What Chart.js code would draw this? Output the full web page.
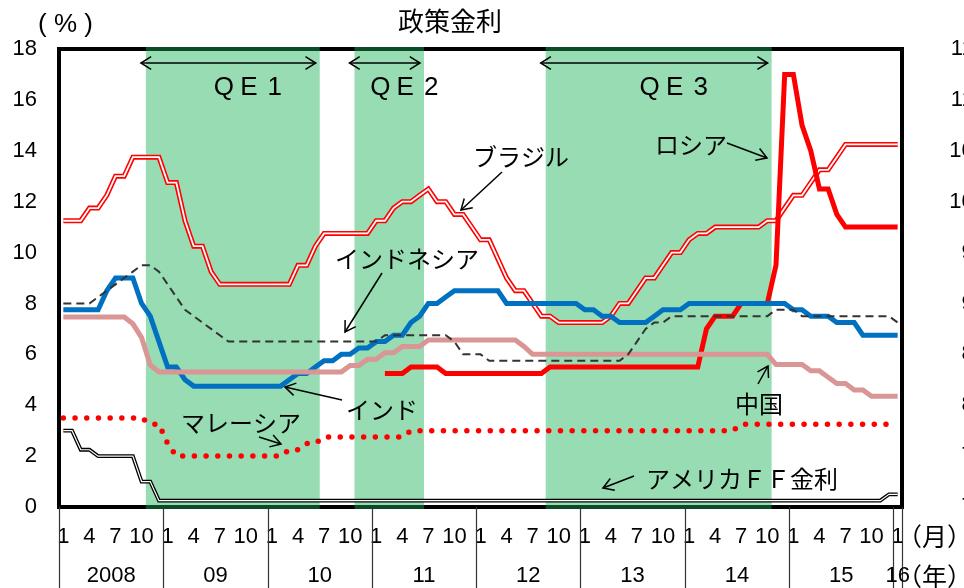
<!DOCTYPE html>
<html>
<head>
<meta charset="utf-8">
<title>政策金利</title>
<script src="https://cdn.jsdelivr.net/npm/chart.js@4.4.1/dist/chart.umd.min.js"></script>
<style>
  html, body { margin: 0; padding: 0; background: #fff; overflow: hidden; }
  #wrap { width: 964px; height: 588px; }
</style>
</head>
<body>
<div id="wrap"><canvas id="chart" width="964" height="588"></canvas></div>
<script>
// 月次データ 2008/1 〜 2016/1
const years = [2008, 2009, 2010, 2011, 2012, 2013, 2014, 2015, 2016];
const yearLabels = ['2008', '09', '10', '11', '12', '13', '14', '15', '16'];
const monthTickLabels = ['1', '4', '7', '10'];
const yTicks = [0, 2, 4, 6, 8, 10, 12, 14, 16, 18];
const rightTickLabels = ['7.0', '7.5', '8.0', '8.5', '9.0', '9.5', '10.0', '10.5', '11.0', '11.5'];

const categories = [];
years.forEach(y => {
  const last = y === 2016 ? 1 : 12;
  for (let m = 1; m <= last; m++) categories.push(y + '/' + m);
});

// 量的緩和の期間
const qePeriods = [
  ['2008/11', '2010/6', ['Q', 'E', '1']],
  ['2010/11', '2011/6', ['Q', 'E', '2']],
  ['2012/9', '2014/10', ['Q', 'E', '3']]
];

const brazil = [
  11.25, 11.25, 11.25, 11.75, 11.75, 12.25, 13.0, 13.0, 13.75, 13.75, 13.75, 13.75,
  12.75, 12.75, 11.25, 10.25, 10.25, 9.25, 8.75, 8.75, 8.75, 8.75, 8.75, 8.75,
  8.75, 8.75, 8.75, 9.5, 9.5, 10.25, 10.75, 10.75, 10.75, 10.75, 10.75, 10.75,
  11.25, 11.25, 11.75, 12.0, 12.0, 12.25, 12.5, 12.0, 12.0, 11.5, 11.5, 11.0,
  10.5, 10.5, 9.75, 9.0, 8.5, 8.5, 8.0, 7.5, 7.5, 7.25, 7.25, 7.25,
  7.25, 7.25, 7.25, 7.5, 8.0, 8.0, 8.5, 9.0, 9.0, 9.5, 10.0, 10.0,
  10.5, 10.75, 10.75, 11.0, 11.0, 11.0, 11.0, 11.0, 11.0, 11.25, 11.25, 11.75,
  12.25, 12.25, 12.75, 13.25, 13.25, 13.75, 14.25, 14.25, 14.25, 14.25, 14.25, 14.25,
  14.25
];

const russia = [
  null, null, null, null, null, null, null, null, null, null, null, null,
  null, null, null, null, null, null, null, null, null, null, null, null,
  null, null, null, null, null, null, null, null, null, null, null, null,
  null, 5.25, 5.25, 5.25, 5.5, 5.5, 5.5, 5.5, 5.25, 5.25, 5.25, 5.25,
  5.25, 5.25, 5.25, 5.25, 5.25, 5.25, 5.25, 5.25, 5.5, 5.5, 5.5, 5.5,
  5.5, 5.5, 5.5, 5.5, 5.5, 5.5, 5.5, 5.5, 5.5, 5.5, 5.5, 5.5,
  5.5, 5.5, 7.0, 7.5, 7.5, 7.5, 8.0, 8.0, 8.0, 8.0, 9.5, 17.0,
  17.0, 15.0, 14.0, 12.5, 12.5, 11.5, 11.0, 11.0, 11.0, 11.0, 11.0, 11.0,
  11.0
];

const india = [
  7.75, 7.75, 7.75, 7.75, 7.75, 8.5, 9.0, 9.0, 9.0, 8.0, 7.5, 6.5,
  5.5, 5.5, 5.0, 4.75, 4.75, 4.75, 4.75, 4.75, 4.75, 4.75, 4.75, 4.75,
  4.75, 4.75, 5.0, 5.25, 5.25, 5.5, 5.75, 5.75, 6.0, 6.0, 6.25, 6.25,
  6.5, 6.5, 6.75, 6.75, 7.25, 7.5, 8.0, 8.0, 8.25, 8.5, 8.5, 8.5,
  8.5, 8.5, 8.5, 8.0, 8.0, 8.0, 8.0, 8.0, 8.0, 8.0, 8.0, 8.0,
  7.75, 7.75, 7.5, 7.5, 7.25, 7.25, 7.25, 7.25, 7.5, 7.75, 7.75, 7.75,
  8.0, 8.0, 8.0, 8.0, 8.0, 8.0, 8.0, 8.0, 8.0, 8.0, 8.0, 8.0,
  7.75, 7.75, 7.5, 7.5, 7.5, 7.25, 7.25, 7.25, 6.75, 6.75, 6.75, 6.75,
  6.75
];

const china = [
  7.47, 7.47, 7.47, 7.47, 7.47, 7.47, 7.47, 7.47, 7.2, 6.66, 5.58, 5.31,
  5.31, 5.31, 5.31, 5.31, 5.31, 5.31, 5.31, 5.31, 5.31, 5.31, 5.31, 5.31,
  5.31, 5.31, 5.31, 5.31, 5.31, 5.31, 5.31, 5.31, 5.31, 5.56, 5.56, 5.81,
  5.81, 6.06, 6.06, 6.31, 6.31, 6.31, 6.56, 6.56, 6.56, 6.56, 6.56, 6.56,
  6.56, 6.56, 6.56, 6.56, 6.56, 6.31, 6.0, 6.0, 6.0, 6.0, 6.0, 6.0,
  6.0, 6.0, 6.0, 6.0, 6.0, 6.0, 6.0, 6.0, 6.0, 6.0, 6.0, 6.0,
  6.0, 6.0, 6.0, 6.0, 6.0, 6.0, 6.0, 6.0, 6.0, 6.0, 5.6, 5.6,
  5.6, 5.6, 5.35, 5.35, 5.1, 4.85, 4.85, 4.6, 4.6, 4.35, 4.35, 4.35,
  4.35
];

const indonesia = [
  8.0, 8.0, 8.0, 8.0, 8.25, 8.5, 8.75, 9.0, 9.25, 9.5, 9.5, 9.25,
  8.75, 8.25, 7.75, 7.5, 7.25, 7.0, 6.75, 6.5, 6.5, 6.5, 6.5, 6.5,
  6.5, 6.5, 6.5, 6.5, 6.5, 6.5, 6.5, 6.5, 6.5, 6.5, 6.5, 6.5,
  6.5, 6.75, 6.75, 6.75, 6.75, 6.75, 6.75, 6.75, 6.75, 6.5, 6.0, 6.0,
  6.0, 5.75, 5.75, 5.75, 5.75, 5.75, 5.75, 5.75, 5.75, 5.75, 5.75, 5.75,
  5.75, 5.75, 5.75, 5.75, 5.75, 6.0, 6.5, 7.0, 7.25, 7.25, 7.5, 7.5,
  7.5, 7.5, 7.5, 7.5, 7.5, 7.5, 7.5, 7.5, 7.5, 7.5, 7.75, 7.75,
  7.75, 7.5, 7.5, 7.5, 7.5, 7.5, 7.5, 7.5, 7.5, 7.5, 7.5, 7.5,
  7.25
];

const malaysia = [
  3.5, 3.5, 3.5, 3.5, 3.5, 3.5, 3.5, 3.5, 3.5, 3.5, 3.25, 3.25,
  2.5, 2.0, 2.0, 2.0, 2.0, 2.0, 2.0, 2.0, 2.0, 2.0, 2.0, 2.0,
  2.0, 2.0, 2.25, 2.25, 2.5, 2.5, 2.75, 2.75, 2.75, 2.75, 2.75, 2.75,
  2.75, 2.75, 2.75, 2.75, 3.0, 3.0, 3.0, 3.0, 3.0, 3.0, 3.0, 3.0,
  3.0, 3.0, 3.0, 3.0, 3.0, 3.0, 3.0, 3.0, 3.0, 3.0, 3.0, 3.0,
  3.0, 3.0, 3.0, 3.0, 3.0, 3.0, 3.0, 3.0, 3.0, 3.0, 3.0, 3.0,
  3.0, 3.0, 3.0, 3.0, 3.0, 3.0, 3.25, 3.25, 3.25, 3.25, 3.25, 3.25,
  3.25, 3.25, 3.25, 3.25, 3.25, 3.25, 3.25, 3.25, 3.25, 3.25, 3.25, 3.25,
  3.25
];

const usFF = [
  3.0, 3.0, 2.25, 2.25, 2.0, 2.0, 2.0, 2.0, 2.0, 1.0, 1.0, 0.25,
  0.25, 0.25, 0.25, 0.25, 0.25, 0.25, 0.25, 0.25, 0.25, 0.25, 0.25, 0.25,
  0.25, 0.25, 0.25, 0.25, 0.25, 0.25, 0.25, 0.25, 0.25, 0.25, 0.25, 0.25,
  0.25, 0.25, 0.25, 0.25, 0.25, 0.25, 0.25, 0.25, 0.25, 0.25, 0.25, 0.25,
  0.25, 0.25, 0.25, 0.25, 0.25, 0.25, 0.25, 0.25, 0.25, 0.25, 0.25, 0.25,
  0.25, 0.25, 0.25, 0.25, 0.25, 0.25, 0.25, 0.25, 0.25, 0.25, 0.25, 0.25,
  0.25, 0.25, 0.25, 0.25, 0.25, 0.25, 0.25, 0.25, 0.25, 0.25, 0.25, 0.25,
  0.25, 0.25, 0.25, 0.25, 0.25, 0.25, 0.25, 0.25, 0.25, 0.25, 0.25, 0.5,
  0.5
];

const NUM_FONT = "'Liberation Sans', Arial, sans-serif";
const JP_FONT = "'Noto Sans CJK JP', sans-serif";

// 系列名の注記 [text, x, y] と矢印 [x1, y1, x2, y2]
const notes = [
  ['ブラジル', 521, 157, [502, 172, 461, 210]],
  ['インドネシア', 407, 259, [382, 273, 345, 332]],
  ['インド', 382, 410, [342, 400, 285, 387]],
  ['マレーシア', 241, 423, [259, 437, 281, 444]],
  ['ロシア', 691, 145, [727, 143, 767, 158]],
  ['中国', 759, 404, [758, 384, 768, 366]],
  ['アメリカＦＦ金利', 742, 479, [634, 476, 603, 488]]
];

const QE_FILL = '#97dcb3';

function arrow(ctx, x1, y1, x2, y2, both) {
  ctx.beginPath();
  ctx.moveTo(x1, y1);
  ctx.lineTo(x2, y2);
  ctx.stroke();
  head(ctx, x1, y1, x2, y2);
  if (both) head(ctx, x2, y2, x1, y1);
}

function head(ctx, x1, y1, x2, y2) {
  const ang = Math.atan2(y2 - y1, x2 - x1);
  const len = 12, spread = 0.55;
  ctx.beginPath();
  ctx.moveTo(x2 - len * Math.cos(ang - spread), y2 - len * Math.sin(ang - spread));
  ctx.lineTo(x2, y2);
  ctx.lineTo(x2 - len * Math.cos(ang + spread), y2 - len * Math.sin(ang + spread));
  ctx.stroke();
}

function qeBounds(x, s, e) {
  const half = (x.getPixelForValue(1) - x.getPixelForValue(0)) / 2;
  return [x.getPixelForValue(categories.indexOf(s)) - half, x.getPixelForValue(categories.indexOf(e)) + half];
}

const decor = {
  id: 'decor',
  beforeDatasetsDraw(chart) {
    const { ctx, chartArea: a, scales: { x } } = chart;
    ctx.save();
    ctx.fillStyle = QE_FILL;
    qePeriods.forEach(([s, e]) => {
      const [l, r] = qeBounds(x, s, e);
      ctx.fillRect(l, a.top, r - l, a.bottom - a.top);
    });
    ctx.restore();
  },
  afterDatasetsDraw(chart) {
    const { ctx, chartArea: a, scales: { x, y } } = chart;
    const half = (x.getPixelForValue(1) - x.getPixelForValue(0)) / 2;
    ctx.save();

    // 枠（QE期間の上下は濃い緑）
    ctx.strokeStyle = '#000';
    ctx.lineWidth = 4;
    ctx.strokeRect(a.left, a.top, a.right - a.left, a.bottom - a.top);
    ctx.strokeStyle = '#0d4a28';
    qePeriods.forEach(([s, e]) => {
      const [l, r] = qeBounds(x, s, e);
      ctx.beginPath();
      ctx.moveTo(l, a.top); ctx.lineTo(r, a.top);
      ctx.moveTo(l, a.bottom); ctx.lineTo(r, a.bottom);
      ctx.stroke();
    });

    // 年の区切りと年ラベル
    ctx.lineWidth = 1.2;
    ctx.strokeStyle = '#333';
    ctx.fillStyle = '#000';
    ctx.font = '22px ' + NUM_FONT;
    ctx.textAlign = 'center';
    ctx.textBaseline = 'middle';
    years.forEach((yr, k) => {
      const i0 = categories.indexOf(yr + '/1');
      const last = k === years.length - 1 ? i0 : categories.indexOf(yr + '/12');
      const l = x.getPixelForValue(i0) - half;
      const r = x.getPixelForValue(last) + half;
      ctx.beginPath();
      ctx.moveTo(Math.round(l) + 0.5, a.bottom);
      ctx.lineTo(Math.round(l) + 0.5, 588);
      ctx.stroke();
      if (k === years.length - 1) {
        ctx.beginPath();
        ctx.moveTo(Math.round(r) + 0.5, a.bottom);
        ctx.lineTo(Math.round(r) + 0.5, 588);
        ctx.stroke();
      }
      ctx.fillText(yearLabels[k], (l + r) / 2, 576);
    });

    // 右軸（画面外に切れる）
    ctx.textAlign = 'right';
    yTicks.forEach((v, i) => {
      ctx.fillText(rightTickLabels[i], 992, y.getPixelForValue(v));
    });

    // タイトル・単位
    ctx.textAlign = 'left';
    ctx.font = '25px ' + JP_FONT;
    ctx.fillText('（月）', 897, 536);
    ctx.fillText('（年）', 897, 576);
    ctx.textAlign = 'center';
    ctx.font = '26px ' + JP_FONT;
    ctx.fillText('政策金利', 450, 21);
    ctx.font = '26px ' + NUM_FONT;
    ctx.textAlign = 'left';
    ctx.fillText('( % )', 38, 25);

    // QE 矢印とラベル
    ctx.lineWidth = 1.5;
    ctx.strokeStyle = '#000';
    ctx.font = '26px ' + NUM_FONT;
    ctx.textAlign = 'center';
    qePeriods.forEach(([s, e, chars]) => {
      const [l, r] = qeBounds(x, s, e);
      arrow(ctx, l - 5, 63, r - 4, 63, true);
      const c = (l + r) / 2 + 16;
      ctx.fillText(chars[0], c - 25, 88);
      ctx.fillText(chars[1], c, 88);
      ctx.fillText(chars[2], c + 26, 88);
    });

    // 系列の注記
    ctx.font = '24px ' + JP_FONT;
    notes.forEach(([t, tx, ty, ar]) => {
      ctx.fillText(t, tx, ty);
      arrow(ctx, ar[0], ar[1], ar[2], ar[3], false);
    });
    ctx.restore();
  }
};

function line(data, color, width, extra) {
  return Object.assign({
    data: data, borderColor: color, borderWidth: width,
    pointRadius: 0, tension: 0, fill: false, spanGaps: false
  }, extra || {});
}

new Chart(document.getElementById('chart'), {
  type: 'line',
  data: {
    labels: categories,
    datasets: [
      line(indonesia, '#333333', 2, { label: 'インドネシア', borderDash: [8, 5], order: 1 }),
      line(malaysia, '#ff0000', 5.5, { label: 'マレーシア', borderDash: [0, 11.7], borderCapStyle: 'round', order: 2 }),
      line(usFF, '#ffffff', 1.2, { label: 'アメリカFF金利', order: 3 }),
      line(usFF, '#000000', 3.8, { label: 'アメリカFF金利', order: 4 }),
      line(china, '#d99694', 5, { label: '中国', order: 5 }),
      line(india, '#0070c0', 5, { label: 'インド', order: 6 }),
      line(russia, '#ff0000', 5, { label: 'ロシア', order: 7 }),
      line(brazil, '#ffffff', 1.8, { label: 'ブラジル', order: 8 }),
      line(brazil, '#ff0000', 5, { label: 'ブラジル', order: 9 })
    ]
  },
  options: {
    responsive: false,
    animation: false,
    layout: { padding: { top: 49, right: 62, left: 0, bottom: 0 } },
    plugins: { legend: { display: false }, tooltip: { enabled: false } },
    scales: {
      x: {
        type: 'category',
        offset: true,
        grid: { display: false, drawTicks: false },
        border: { display: false },
        ticks: {
          autoSkip: false, maxRotation: 0, minRotation: 0, padding: 17,
          color: '#000', font: { family: NUM_FONT, size: 22 },
          callback: (v, i) => {
            const m = categories[i].split('/')[1];
            return monthTickLabels.includes(m) ? m : '';
          }
        },
        afterFit: s => { s.height = 81; }
      },
      y: {
        min: 0, max: 18,
        grid: { display: false, drawTicks: false },
        border: { display: false },
        ticks: { stepSize: 2, padding: 22, color: '#000', font: { family: NUM_FONT, size: 22 } },
        afterFit: s => { s.width = 59; }
      }
    }
  },
  plugins: [decor]
});
</script>
</body>
</html>
